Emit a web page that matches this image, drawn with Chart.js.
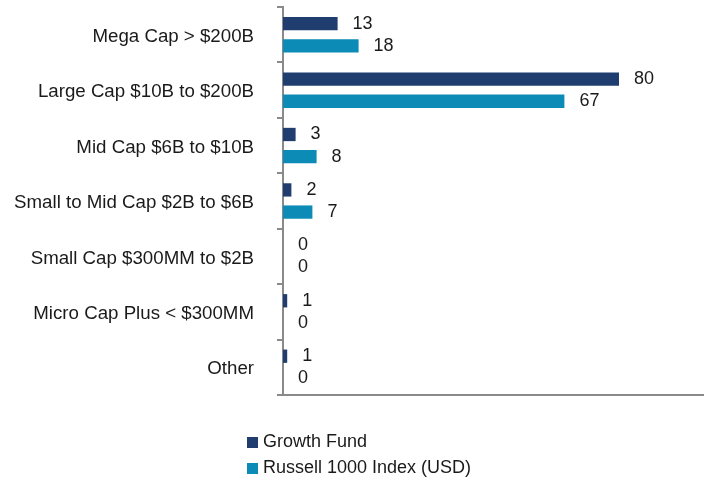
<!DOCTYPE html>
<html>
<head>
<meta charset="utf-8">
<script src="https://cdn.jsdelivr.net/npm/chart.js@4/dist/chart.umd.min.js"></script>
<style>
    body { margin: 0; background: #fff; }
    #wrap { position: relative; width: 709px; height: 480px; }
    #legend { position: absolute; left: 247px; top: 428px; font: 18px "Liberation Sans", Arial, sans-serif; color: #1a1a1a; }
    #legend div { height: 26px; line-height: 26px; white-space: nowrap; }
    #legend span { display: inline-block; width: 11px; height: 11px; margin-right: 5px; vertical-align: -1px; }
</style>
</head>
<body>
<div id="wrap">
    <canvas id="capChart" width="709" height="480"></canvas>
    <div id="legend"></div>
</div>
<script>
const categories = [
    "Mega Cap > $200B",
    "Large Cap $10B to $200B",
    "Mid Cap $6B to $10B",
    "Small to Mid Cap $2B to $6B",
    "Small Cap $300MM to $2B",
    "Micro Cap Plus < $300MM",
    "Other",
];
const growthFund = [13, 80, 3, 2, 0, 1, 1];
const russell1000 = [18, 67, 8, 7, 0, 0, 0];
const seriesNames = ["Growth Fund", "Russell 1000 Index (USD)"];

const FONT = '"Liberation Sans", Arial, sans-serif';
const AXIS_GREY = "#8a8a8a";

// nilai di ujung batang
const valueLabels = {
    id: "valueLabels",
    afterDatasetsDraw(chart) {
        const ctx = chart.ctx;
        ctx.save();
        ctx.font = "18px " + FONT;
        ctx.fillStyle = "#1a1a1a";
        ctx.textAlign = "left";
        ctx.textBaseline = "middle";
        chart.data.datasets.forEach((ds, i) => {
            chart.getDatasetMeta(i).data.forEach((bar, j) => {
                ctx.fillText(String(ds.data[j]), bar.x + 15, bar.y);
            });
        });
        ctx.restore();
    },
};

const chart = new Chart(document.getElementById("capChart"), {
    type: "bar",
    data: {
        labels: categories,
        datasets: [
            {
                label: seriesNames[0],
                data: growthFund,
                backgroundColor: "#1f3d6e",
                categoryPercentage: 0.8,
                barPercentage: 0.6,
            },
            {
                label: seriesNames[1],
                data: russell1000,
                backgroundColor: "#0b8bb6",
                categoryPercentage: 0.8,
                barPercentage: 0.6,
            },
        ],
    },
    options: {
        indexAxis: "y",
        responsive: false,
        animation: false,
        layout: { padding: { top: 7, right: 6, bottom: 85, left: 0 } },
        plugins: {
            legend: { display: false },
            tooltip: { enabled: false },
        },
        scales: {
            x: {
                min: 0,
                max: 100,
                ticks: { display: false },
                grid: { display: false, drawTicks: false },
                border: { display: true, color: AXIS_GREY, width: 2 },
            },
            y: {
                afterFit(scale) {
                    scale.width = 283;
                    scale.paddingTop = 0;
                    scale.paddingBottom = 0;
                },
                ticks: {
                    padding: 23,
                    labelOffset: 2,
                    color: "#1a1a1a",
                    font: { family: FONT, size: 18.7 },
                },
                grid: {
                    offset: true,
                    drawOnChartArea: false,
                    tickLength: 6,
                    color: AXIS_GREY,
                    lineWidth: 2,
                },
                border: { display: true, color: AXIS_GREY, width: 2 },
            },
        },
    },
    plugins: [valueLabels],
});

// legenda bertumpuk di bawah
const legendEl = document.getElementById("legend");
chart.data.datasets.forEach((ds) => {
    const row = document.createElement("div");
    const box = document.createElement("span");
    box.style.background = ds.backgroundColor;
    row.appendChild(box);
    row.appendChild(document.createTextNode(ds.label));
    legendEl.appendChild(row);
});
</script>
</body>
</html>
